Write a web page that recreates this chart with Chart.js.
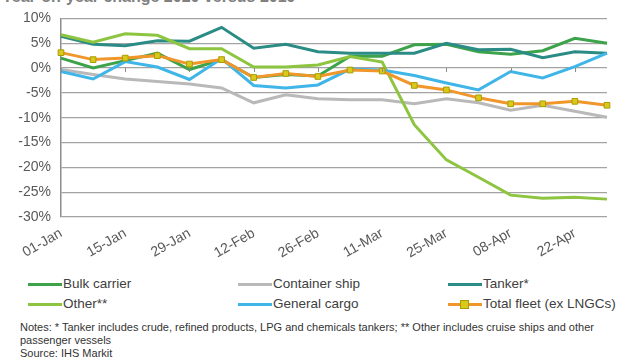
<!DOCTYPE html>
<html>
<head>
<meta charset="utf-8">
<script src="https://cdn.jsdelivr.net/npm/chart.js@4"></script>
<style>
  body { margin: 0; background: #fff; font-family: "Liberation Sans", Arial, sans-serif; }
  #wrap { position: relative; width: 618px; height: 363px; overflow: hidden; }
  #title { position: absolute; left: 2px; top: -12px; font-size: 16px; font-weight: bold; color: #808080; white-space: nowrap; }
  canvas { position: absolute; left: 0; top: 0; }
  .leg { position: absolute; font-size: 13.5px; color: #404040; white-space: nowrap; line-height: 16px; }
  .leg i { position: absolute; left: -35px; top: 7px; width: 34px; height: 3px; }
  .leg b { position: absolute; left: -23px; top: 4px; width: 7px; height: 7px; background: #d8ca1c; border: 1px solid #a99c00; }
  .note { position: absolute; left: 20px; font-size: 11px; color: #333; white-space: nowrap; }
</style>
</head>
<body>
<div id="wrap">
  <div id="title">Year-on-year change 2020 versus 2019</div>
  <canvas id="chart" width="618" height="262"></canvas>
  <div id="legend"></div>
  <div class="note" style="top:321px">Notes: * Tanker includes crude, refined products, LPG and chemicals tankers; ** Other includes cruise ships and other</div>
  <div class="note" style="top:334px">passenger vessels</div>
  <div class="note" style="top:347px">Source: IHS Markit</div>
</div>
<script>
// semanas (una etiqueta cada dos)
const weeks = ["01-Jan", "08-Jan", "15-Jan", "22-Jan", "29-Jan", "05-Feb", "12-Feb", "19-Feb", "26-Feb",
               "04-Mar", "11-Mar", "18-Mar", "25-Mar", "01-Apr", "08-Apr", "15-Apr", "22-Apr", "29-Apr"];

const yTicks = [10, 5, 0, -5, -10, -15, -20, -25, -30];

// % cambio interanual
const bulkCarrier   = [2.0, 0.0, 1.5, 3.0, -0.3, 1.7, -1.9, -1.3, -1.6, 2.4, 2.4, 4.7, 4.8, 3.3, 2.8, 3.5, 6.0, 5.0];
const containerShip = [-0.3, -1.3, -2.2, -2.7, -3.2, -4.0, -7.0, -5.4, -6.2, -6.4, -6.4, -7.2, -6.2, -7.0, -8.5, -7.5, -8.7, -9.9];
const tanker        = [6.4, 4.8, 4.5, 5.5, 5.4, 8.2, 4.0, 4.8, 3.3, 3.0, 3.0, 3.0, 5.0, 3.7, 3.8, 2.1, 3.3, 3.0];
const other         = [6.7, 5.2, 6.9, 6.6, 3.9, 3.9, 0.2, 0.2, 0.6, 2.3, 1.2, -11.4, -18.5, -22.0, -25.6, -26.2, -26.0, -26.4];
const generalCargo  = [-0.7, -2.2, 1.3, 0.2, -2.3, 1.9, -3.5, -4.0, -3.4, -0.2, -0.4, -1.5, -3.0, -4.4, -0.7, -2.0, 0.3, 3.0];
const totalFleet    = [3.1, 1.7, 2.0, 2.5, 0.8, 1.7, -1.9, -1.1, -1.7, -0.4, -0.6, -3.5, -4.4, -6.0, -7.2, -7.2, -6.7, -7.5];

const seriesNames = ["Bulk carrier", "Container ship", "Tanker*", "Other**", "General cargo", "Total fleet (ex LNGCs)"];
const seriesData = [bulkCarrier, containerShip, tanker, other, generalCargo, totalFleet];
const seriesColors = ["#3ca34a", "#b9b9b9", "#2b8c86", "#8dc540", "#3fb5e8", "#f0962a"];

// leyenda en html (2 filas x 3 columnas)
const legX = [63, 273, 483];
const legY = [276, 296];
const legend = document.getElementById("legend");
seriesNames.forEach((name, i) => {
    const d = document.createElement("div");
    d.className = "leg";
    d.style.left = legX[i % 3] + "px";
    d.style.top = legY[Math.floor(i / 3)] + "px";
    d.innerHTML = `<i style="background:${seriesColors[i]}"></i>` + (i === 5 ? "<b></b>" : "") + name;
    legend.appendChild(d);
});

// marcas del eje horizontal sobre la linea del 0%
const zeroTicks = {
    id: "zeroTicks",
    afterDatasetsDraw(chart) {
        const { ctx, scales: { x, y } } = chart;
        const y0 = y.getPixelForValue(0);
        ctx.save();
        ctx.strokeStyle = "#8c8c8c";
        ctx.lineWidth = 1;
        weeks.forEach((w, i) => {
            if (i % 2) return;
            const px = Math.round(x.getPixelForValue(i)) + 0.5;
            ctx.beginPath();
            ctx.moveTo(px, y0);
            ctx.lineTo(px, y0 + 4);
            ctx.stroke();
        });
        ctx.restore();
    }
};

new Chart(document.getElementById("chart"), {
    type: "line",
    data: {
        labels: weeks,
        datasets: seriesNames.map((name, i) => ({
            label: name,
            data: seriesData[i],
            borderColor: seriesColors[i],
            backgroundColor: seriesColors[i],
            borderWidth: 3,
            tension: 0,
            order: seriesNames.length - 1 - i,
            pointRadius: i === 5 ? 4 : 0,
            pointStyle: "rect",
            pointBackgroundColor: "#d8ca1c",
            pointBorderColor: "#a99c00",
            pointBorderWidth: 1
        }))
    },
    options: {
        responsive: false,
        animation: false,
        devicePixelRatio: 1,
        layout: { padding: { top: 14, right: 11, left: 0, bottom: 0 } },
        plugins: { legend: { display: false }, tooltip: { enabled: false } },
        scales: {
            x: {
                offset: false,
                grid: { display: false, drawTicks: false },
                border: { display: false },
                ticks: {
                    autoSkip: false,
                    maxRotation: 30,
                    minRotation: 30,
                    padding: 8,
                    color: "#595959",
                    font: { family: "Liberation Sans", size: 14 },
                    callback: (v, i) => (i % 2 ? "" : weeks[i])
                },
                afterFit: s => { s.height = 45; s.paddingRight = 0; s.paddingLeft = 0; }
            },
            y: {
                min: -30,
                max: 10,
                afterBuildTicks: s => { s.ticks = yTicks.map(v => ({ value: v })); },
                grid: { color: "#a3a3a3", lineWidth: 1.3, drawTicks: false },
                border: { display: true, color: "#8c8c8c", width: 1.5 },
                ticks: {
                    padding: 10,
                    color: "#595959",
                    font: { family: "Liberation Sans", size: 14 },
                    callback: v => v + "%"
                },
                afterFit: s => { s.width = 61; }
            }
        }
    },
    plugins: [zeroTicks]
});
</script>
</body>
</html>
